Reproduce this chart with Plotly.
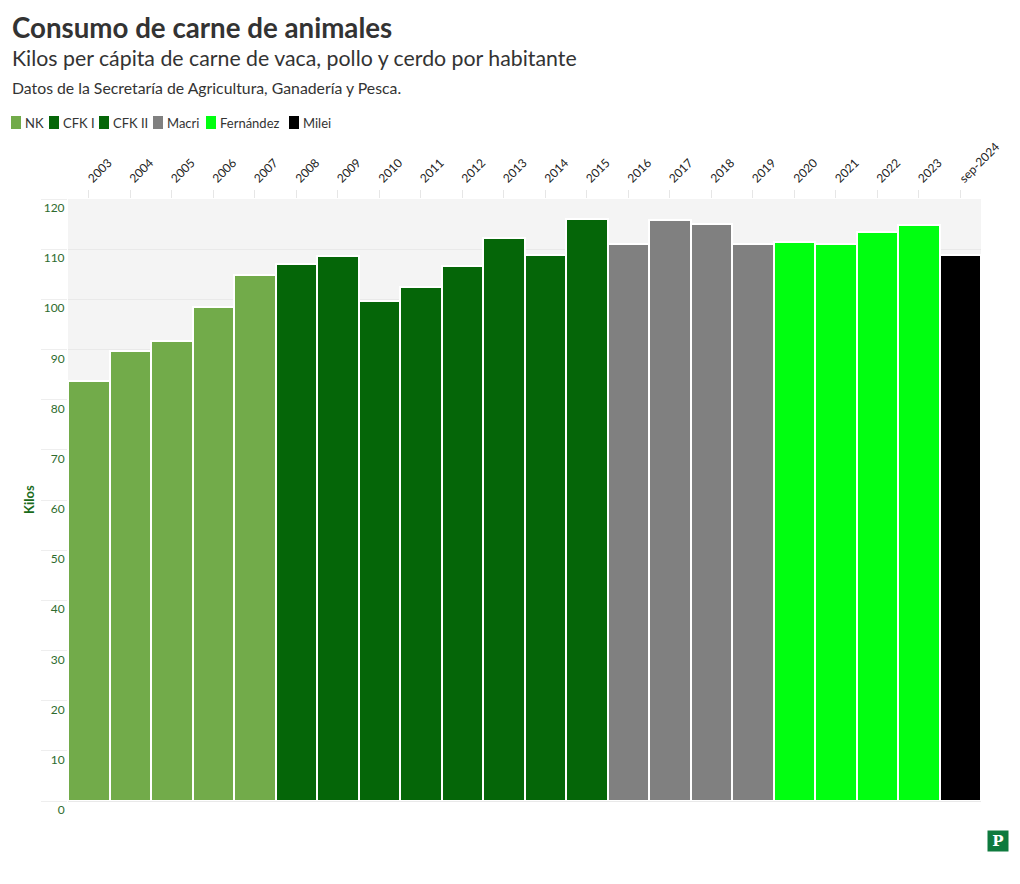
import plotly.graph_objects as go

# data
years = ["2003", "2004", "2005", "2006", "2007", "2008", "2009", "2010", "2011", "2012", "2013",
         "2014", "2015", "2016", "2017", "2018", "2019", "2020", "2021", "2022", "2023", "sep-2024"]
kilos = [83.8, 89.8, 91.6, 98.4, 104.9, 107.0, 108.7, 99.7, 102.5, 106.6, 112.3,
         108.9, 116.0, 111.1, 115.9, 115.0, 111.1, 111.4, 111.1, 113.5, 114.9, 108.9]
gobierno = ["NK"] * 5 + ["CFK I"] * 4 + ["CFK II"] * 4 + ["Macri"] * 4 + ["Fernández"] * 4 + ["Milei"]
gobiernos = ["NK", "CFK I", "CFK II", "Macri", "Fernández", "Milei"]
colores = ["#72ab4a", "#056608", "#056608", "#808080", "#00ff10", "#000000"]

FONT = "Lato"
# the page body adds an 8px margin, so the figure is drawn 8px smaller and shifted
OFF = 8
W, H = 1020 - OFF, 884 - OFF
L, R, T, B = 68 - OFF, 39, 199 - OFF, 83
pw, ph = W - L - R, H - T - B


def px_x(p):
    return (p - OFF - L) / pw


def px_y(p):
    return (H - B - (p - OFF)) / ph


fig = go.Figure()
for g, c in zip(gobiernos, colores):
    xs = [y for y, gg in zip(years, gobierno) if gg == g]
    ys = [k for k, gg in zip(kilos, gobierno) if gg == g]
    fig.add_trace(go.Bar(x=xs, y=ys, name=g, marker=dict(color=c, line=dict(color="white", width=2))))

annotations = [
    dict(text="<b>Consumo de carne de animales</b>", x=px_x(10), y=px_y(28),
         font=dict(size=27.7, color="#333333", family=FONT)),
    dict(text="Kilos per cápita de carne de vaca, pollo y cerdo por habitante", x=px_x(10), y=px_y(58),
         font=dict(size=21.3, color="#333333", family=FONT)),
    dict(text="Datos de la Secretaría de Agricultura, Ganadería y Pesca.", x=px_x(10), y=px_y(88),
         font=dict(size=15.8, color="#333333", family=FONT)),
]
for a in annotations:
    a.update(xref="paper", yref="paper", xanchor="left", yanchor="middle", showarrow=False)

# legend drawn by hand (tight spacing like the original)
shapes = []
leg_x = [11, 49, 99, 153, 206, 289]
for g, c, lx in zip(gobiernos, colores, leg_x):
    shapes.append(dict(type="rect", xref="paper", yref="paper", x0=px_x(lx), x1=px_x(lx + 10),
                       y0=px_y(129), y1=px_y(116), fillcolor=c, line=dict(width=0)))
    annotations.append(dict(text=g, xref="paper", yref="paper", x=px_x(lx + 12), y=px_y(123),
                            xanchor="left", yanchor="middle", showarrow=False,
                            font=dict(size=13, color="#333333", family=FONT)))

annotations.append(dict(text="<b>Kilos</b>", xref="paper", yref="paper", x=px_x(29), y=0.5,
                        textangle=-90, xanchor="center", yanchor="middle", showarrow=False,
                        font=dict(size=13, color="#1a6b1a", family=FONT)))
annotations.append(dict(text="<b>P</b>", xref="paper", yref="paper", x=px_x(998), y=px_y(841),
                        xanchor="center", yanchor="middle", showarrow=False, bgcolor="#0e7a3e",
                        width=18, height=18, borderpad=1,
                        font=dict(size=15, color="white", family="DejaVu Serif")))

fig.update_layout(
    width=W, height=H,
    margin=dict(l=L, r=R, t=T, b=B, autoexpand=False),
    paper_bgcolor="white", plot_bgcolor="#f4f4f4",
    font=dict(family=FONT, color="#333333"),
    barmode="overlay", bargap=0,
    showlegend=False,
    xaxis=dict(type="category", categoryorder="array", categoryarray=years, side="top",
               tickangle=-45, tickfont=dict(size=12, color="#222222"), automargin=False,
               ticks="outside", ticklen=8, tickcolor="#e6e6e6", showgrid=False,
               showline=False, fixedrange=True),
    yaxis=dict(range=[0, 120], tickvals=list(range(0, 121, 10)), automargin=False,
               ticklabelposition="outside bottom",
               tickfont=dict(size=12, color="#2e6b2e"), showgrid=True, gridcolor="#e9e9e9",
               gridwidth=1, ticks="outside", ticklen=26, tickcolor="#eeeeee",
               zeroline=True, zerolinecolor="#e9e9e9", zerolinewidth=1, showline=False),
    annotations=annotations,
    shapes=shapes,
)

fig.write_html("out.html")
